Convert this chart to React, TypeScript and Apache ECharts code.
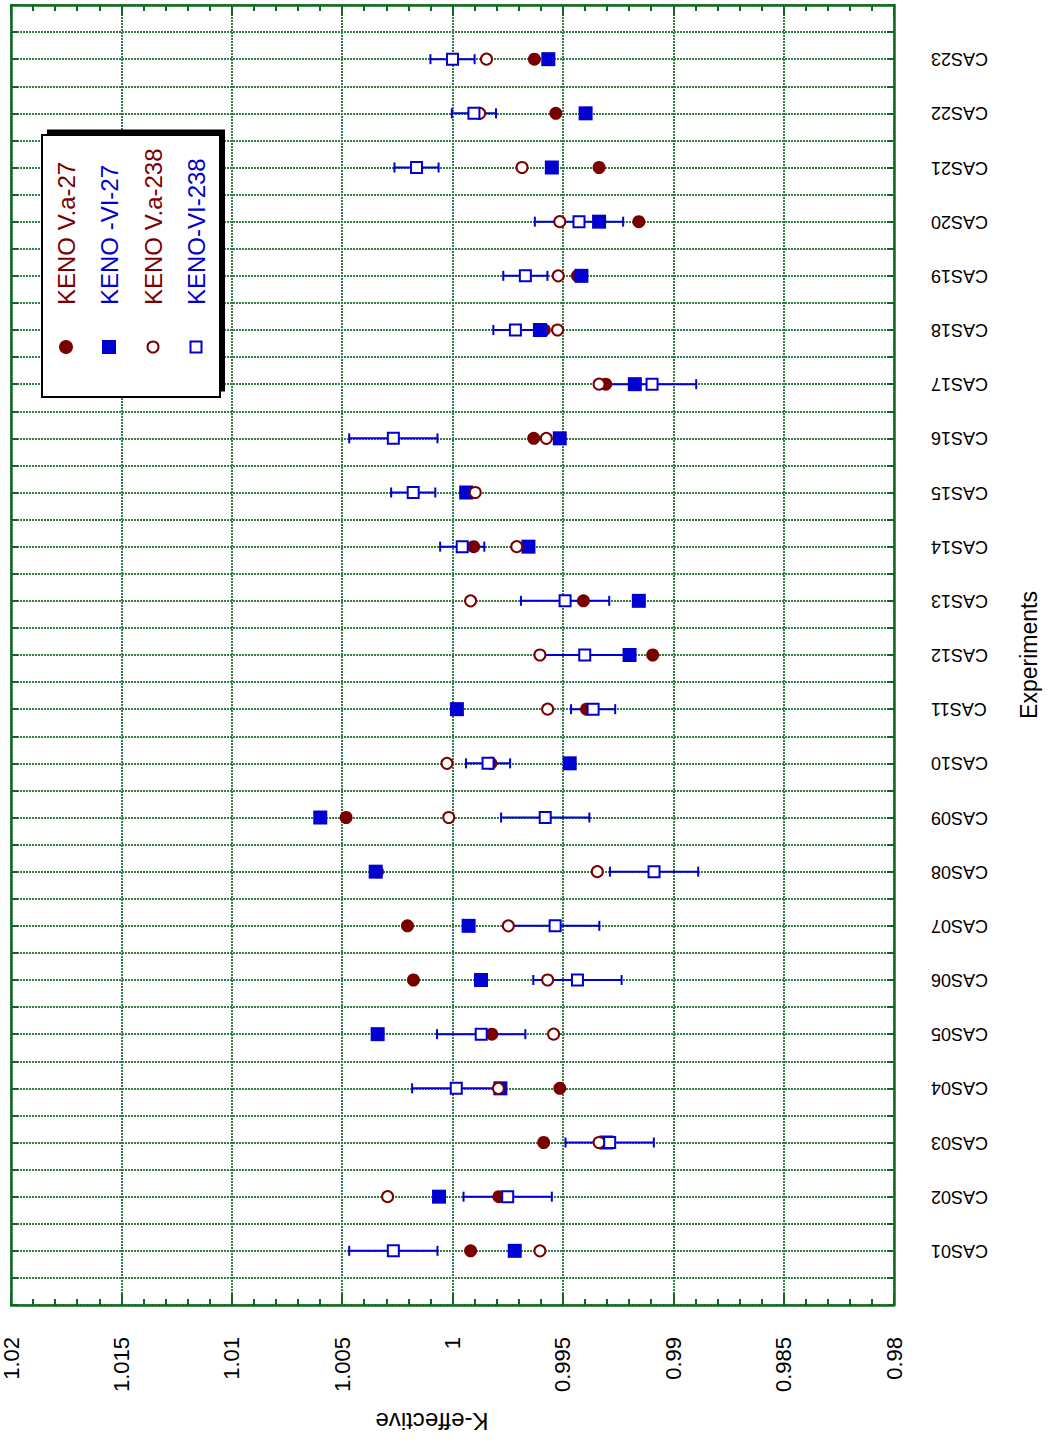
import React, { useEffect, useRef } from 'react';
import * as echarts from 'echarts';

const categories = [
  'CAS01', 'CAS02', 'CAS03', 'CAS04', 'CAS05', 'CAS06', 'CAS07', 'CAS08', 'CAS09', 'CAS10',
  'CAS11', 'CAS12', 'CAS13', 'CAS14', 'CAS15', 'CAS16', 'CAS17', 'CAS18', 'CAS19', 'CAS20',
  'CAS21', 'CAS22', 'CAS23',
];

const seriesNames = ['KENO V.a-27', 'KENO -VI-27', 'KENO V.a-238', 'KENO-VI-238'];

const kenoVa27 = [
  0.99918, 0.9979, 0.99587, 0.99514, 0.99822, 1.00177, 1.00204, 1.0034, 1.00482, 0.99826,
  0.99393, 0.99093, 0.99407, 0.99904, 0.9994, 0.99632, 0.99306, 0.99584, 0.99434, 0.99156,
  0.99336, 0.99532, 0.99629,
];

const kenoVi27 = [
  0.99718, 1.00061, 0.99303, 0.99783, 1.00339, 0.99871, 0.99927, 1.00348, 1.00599, 0.99469,
  0.9998, 0.99198, 0.99156, 0.99656, 0.99938, 0.99514, 0.99174, 0.99604, 0.99416, 0.99336,
  0.9955, 0.99397, 0.99566,
];

const kenoVa238 = [
  0.99604, 1.00294, 0.99336, 0.99792, 0.99542, 0.99569, 0.99747, 0.99344, 1.00017, 1.00025,
  0.99569, 0.99604, 0.99918, 0.99709, 0.99897, 0.99575, 0.99336, 0.99524, 0.99521, 0.99514,
  0.99685, 0.99877, 0.99846,
];

const kenoVi238 = [
  1.00268, 0.9975, 0.99288, 0.99983, 0.9987, 0.99434, 0.99535, 0.99087, 0.9958, 0.99839,
  0.99363, 0.99401, 0.9949, 0.99956, 1.00178, 1.00268, 0.99096, 0.99715, 0.9967, 0.99427,
  1.00163, 0.99903, 1.0,
];

const kenoVi238Err = [
  0.002, 0.002, 0.002, 0.002, 0.002, 0.002, 0.002, 0.002, 0.002, 0.001,
  0.001, 0.002, 0.002, 0.001, 0.001, 0.002, 0.002, 0.001, 0.001, 0.002,
  0.001, 0.001, 0.001,
];

const xTickMin = 0.98;
const xTickMax = 1.02;
const xTickStep = 0.005;

const xAxisTitle = 'K-effective';
const yAxisTitle = 'Experiments';

const RED = '#7a0000';
const BLUE = '#0000d0';
const GREEN_AXIS = '#0e6a1f';
const GREEN_GRID = '#357f45';
const FONT = '"Liberation Sans", Arial, Helvetica, sans-serif';

export default function App() {
  const ref = useRef<HTMLDivElement>(null);

  useEffect(() => {
    if (!ref.current) return;
    const chart = echarts.init(ref.current, null, { renderer: 'svg' });

    const pos = (i: number) => i + 1;
    const gridLine = { show: true, lineStyle: { color: GREEN_GRID, width: 2, type: [2, 1] as any } };
    const axisLine = { show: true, onZero: false, lineStyle: { color: GREEN_AXIS, width: 2.5 } };

    const xCommon = {
      type: 'value' as const,
      inverse: true,
      min: xTickMin,
      max: xTickMax,
      interval: xTickStep,
      axisLine,
      axisTick: { show: true, inside: true, length: 11, lineStyle: { color: GREEN_AXIS, width: 2 } },
      minorTick: { show: true, splitNumber: 5, length: 6, lineStyle: { color: GREEN_AXIS, width: 2 } },
    };

    const yCommon = {
      type: 'value' as const,
      min: 0,
      max: categories.length + 1,
      interval: 0.5,
      axisLine,
      axisTick: { show: true, inside: true, length: 7, lineStyle: { color: GREEN_AXIS, width: 2 } },
    };

    const legendX = [66, 109, 153, 196];
    const legendColors = [RED, BLUE, RED, BLUE];

    const legendGraphics: any[] = [
      { type: 'rect', shape: { x: 47, y: 129.5, width: 178, height: 262 }, style: { fill: '#000' }, z: 100 },
      { type: 'rect', shape: { x: 42, y: 135, width: 178, height: 262 }, style: { fill: '#fff', stroke: '#000', lineWidth: 2 }, z: 101 },
      { type: 'circle', shape: { cx: legendX[0], cy: 347, r: 7 }, style: { fill: RED }, z: 102 },
      { type: 'rect', shape: { x: legendX[1] - 7, y: 340, width: 14, height: 14 }, style: { fill: BLUE }, z: 102 },
      { type: 'circle', shape: { cx: legendX[2], cy: 347, r: 5.5 }, style: { fill: '#fff', stroke: RED, lineWidth: 2 }, z: 102 },
      { type: 'rect', shape: { x: legendX[3] - 5.5, y: 341.5, width: 11, height: 11 }, style: { fill: '#fff', stroke: BLUE, lineWidth: 2 }, z: 102 },
      {
        type: 'text',
        x: 432,
        y: 1421,
        rotation: Math.PI,
        z: 102,
        style: {
          text: xAxisTitle,
          fill: '#000',
          font: `24px ${FONT}`,
          textAlign: 'center',
          align: 'center',
          textVerticalAlign: 'middle',
          verticalAlign: 'middle',
        },
      },
    ];
    seriesNames.forEach((name, i) => {
      legendGraphics.push({
        type: 'text',
        x: legendX[i],
        y: 305,
        rotation: Math.PI / 2,
        z: 102,
        style: {
          text: name,
          fill: legendColors[i],
          font: `24px ${FONT}`,
          textAlign: 'left',
          align: 'left',
          textVerticalAlign: 'middle',
          verticalAlign: 'middle',
        },
      });
    });

    const option: any = {
      animation: false,
      backgroundColor: '#fff',
      textStyle: { fontFamily: FONT },
      grid: { left: 11, right: 150, top: 5, bottom: 147, containLabel: false },
      xAxis: [
        {
          ...xCommon,
          position: 'bottom',
          splitLine: gridLine,
          axisLabel: { show: true, rotate: 90, margin: 32, fontSize: 22, color: '#000', fontFamily: FONT },
        },
        {
          ...xCommon,
          position: 'top',
          splitLine: { show: false },
          axisLabel: { show: false },
        },
      ],
      yAxis: [
        {
          ...yCommon,
          position: 'right',
          splitLine: gridLine,
          axisLabel: {
            show: true,
            rotate: 180,
            margin: 37,
            fontSize: 18,
            color: '#000',
            fontFamily: FONT,
            formatter: (v: number) => {
              const r = Math.round(v);
              if (Math.abs(v - r) > 1e-6 || r < 1 || r > categories.length) return '';
              return categories[r - 1];
            },
          },
          name: yAxisTitle,
          nameLocation: 'middle',
          nameRotate: 90,
          nameGap: 123,
          nameTextStyle: { fontSize: 23, color: '#000', fontFamily: FONT },
        },
        {
          ...yCommon,
          position: 'left',
          splitLine: { show: false },
          axisLabel: { show: false },
        },
      ],
      graphic: legendGraphics,
      series: [
        {
          name: 'err',
          type: 'custom',
          xAxisIndex: 0,
          yAxisIndex: 0,
          z: 1,
          silent: true,
          data: kenoVi238.map((v, i) => [v - kenoVi238Err[i], pos(i), v + kenoVi238Err[i]]),
          encode: { x: [0, 2], y: 1 },
          renderItem: (params: any, api: any) => {
            const lo = api.coord([api.value(0), api.value(1)]);
            const hi = api.coord([api.value(2), api.value(1)]);
            const style = { stroke: BLUE, lineWidth: 2, fill: 'none' };
            return {
              type: 'group',
              children: [
                { type: 'line', shape: { x1: lo[0], y1: lo[1], x2: hi[0], y2: hi[1] }, style },
                { type: 'line', shape: { x1: lo[0], y1: lo[1] - 5, x2: lo[0], y2: lo[1] + 5 }, style },
                { type: 'line', shape: { x1: hi[0], y1: hi[1] - 5, x2: hi[0], y2: hi[1] + 5 }, style },
              ],
            };
          },
        },
        {
          name: seriesNames[0],
          type: 'scatter',
          z: 2,
          silent: true,
          symbol: 'circle',
          symbolSize: 13,
          itemStyle: { color: RED, opacity: 1 },
          data: kenoVa27.map((v, i) => [v, pos(i)]),
        },
        {
          name: seriesNames[1],
          type: 'scatter',
          z: 3,
          silent: true,
          symbol: 'rect',
          symbolSize: 14,
          itemStyle: { color: BLUE, opacity: 1 },
          data: kenoVi27.map((v, i) => [v, pos(i)]),
        },
        {
          name: seriesNames[2],
          type: 'scatter',
          z: 4,
          silent: true,
          symbol: 'circle',
          symbolSize: 11,
          itemStyle: { color: '#fff', borderColor: RED, borderWidth: 2, opacity: 1 },
          data: kenoVa238.map((v, i) => [v, pos(i)]),
        },
        {
          name: seriesNames[3],
          type: 'scatter',
          z: 5,
          silent: true,
          symbol: 'rect',
          symbolSize: 11,
          itemStyle: { color: '#fff', borderColor: BLUE, borderWidth: 2, opacity: 1 },
          data: kenoVi238.map((v, i) => [v, pos(i)]),
        },
      ],
    };

    chart.setOption(option);
    return () => chart.dispose();
  }, []);

  return (
    <div
      ref={ref}
      style={{ position: 'fixed', left: 0, top: 0, width: 1048, height: 1452, background: '#fff' }}
    />
  );
}
